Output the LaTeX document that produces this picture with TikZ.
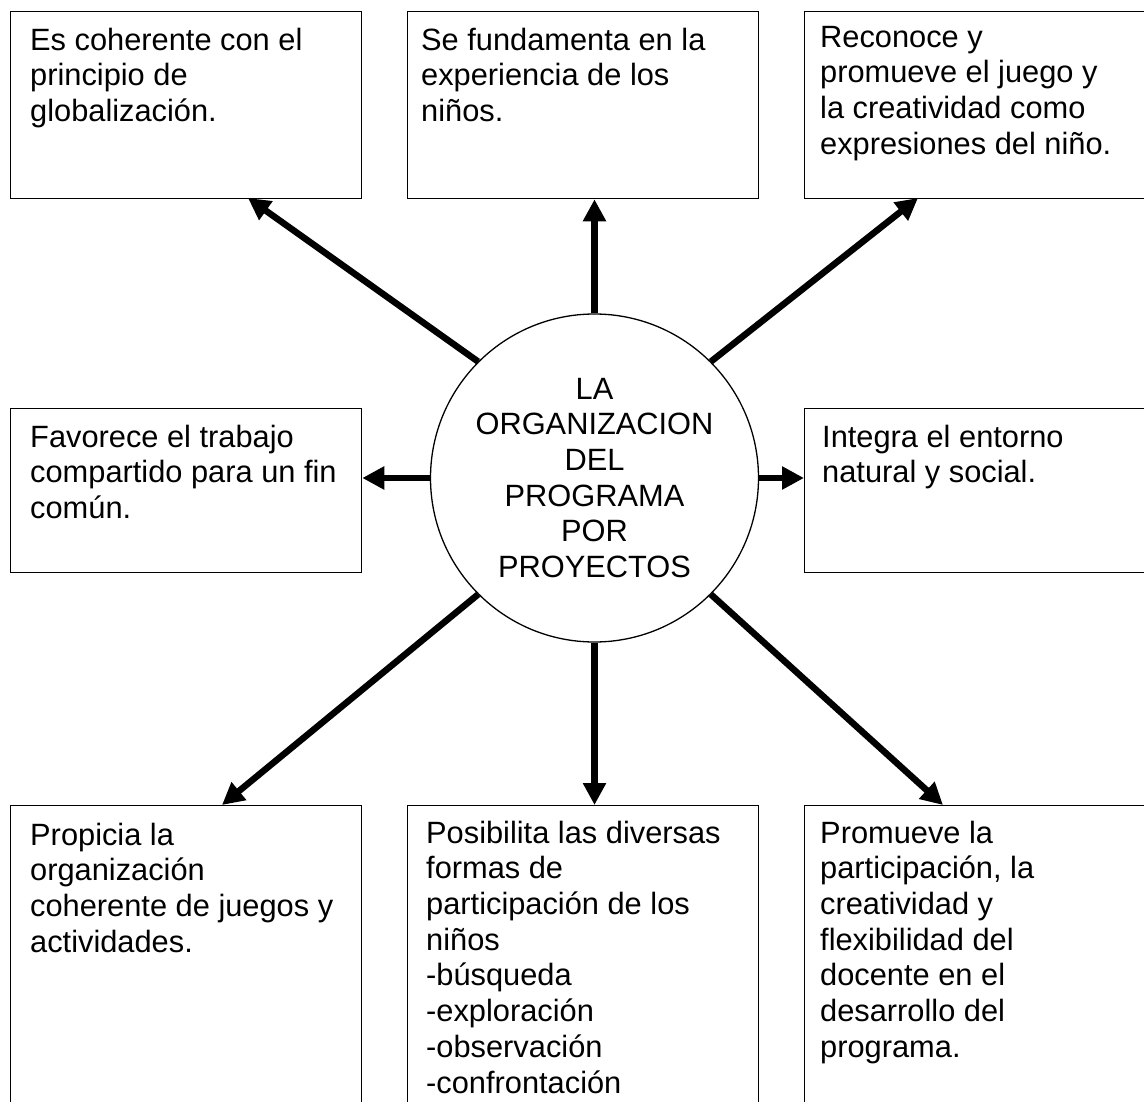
\documentclass[tikz,border=0pt]{standalone}
\usepackage{fontspec}
\setmainfont{Liberation Sans}
\usetikzlibrary{arrows.meta}
\begin{document}
\begin{tikzpicture}[x=1pt,y=-1pt,
  box/.style={draw, line width=1.3pt, rectangle, anchor=north west, inner sep=0pt},
  txt/.style={anchor=north west, inner sep=0pt, align=left, font={\fontsize{30.8}{35.7}\selectfont}},
  conn/.style={line width=6.5pt, -{Triangle[length=22pt,width=22pt]}}]
\useasboundingbox (0,0) rectangle (1144,1102);
\clip (0,0) rectangle (1144,1102);
% boxes
\node[box, minimum width=351pt, minimum height=187pt] (tl) at (10,11) {};
\node[box, minimum width=351pt, minimum height=187pt] (tm) at (407,11) {};
\node[box, minimum width=360pt, minimum height=187pt] (tr) at (804,11) {};
\node[box, minimum width=351pt, minimum height=164pt] (ml) at (10,408) {};
\node[box, minimum width=360pt, minimum height=164pt] (mr) at (804,408) {};
\node[box, minimum width=351pt, minimum height=320pt] (bl) at (10,805) {};
\node[box, minimum width=351pt, minimum height=320pt] (bm) at (407,805) {};
\node[box, minimum width=360pt, minimum height=320pt] (br) at (804,805) {};
% texts
\node[txt] (tlt) at (30,25) {\strut Es coherente con el\\principio de\\globalización.};
\node[txt] (tmt) at (421,25) {\strut Se fundamenta en la\\experiencia de los\\niños.};
\node[txt] (trt) at (820,22) {\strut Reconoce y\\promueve el juego y\\la creatividad como\\expresiones del niño.};
\node[txt] (mlt) at (30,422) {\strut Favorece el trabajo\\compartido para un fin\\común.};
\node[txt] (mrt) at (822,422) {\strut Integra el entorno\\natural y social.};
\node[txt] (blt) at (30,820) {\strut Propicia la\\organización\\coherente de juegos y\\actividades.};
\node[txt] (bmt) at (426,818) {\strut Posibilita las diversas\\formas de\\participación de los\\niños\\-búsqueda\\-exploración\\-observación\\-confrontación};
\node[txt] (brt) at (820,818) {\strut Promueve la\\participación, la\\creatividad y\\flexibilidad del\\docente en el\\desarrollo del\\programa.};
% centre
\node[draw, circle, line width=1.3pt, minimum size=328pt, inner sep=0pt, align=center,
      font={\fontsize{30.8}{35.7}\selectfont}] (c) at (594.5,478)
  {LA\\ORGANIZACION\\DEL\\PROGRAMA\\POR\\PROYECTOS};
% arrow ends
\coordinate (e1) at (248,198);
\coordinate (e3) at (918,198);
\coordinate (e6) at (222,805);
\coordinate (e8) at (943,805);
% connectors
\draw[conn] (c.135) -- (e1);
\draw[conn] (c.north) -- (c.north |- tm.south);
\draw[conn] (c.45) -- (e3);
\draw[conn] (c.west) -- (c.west -| ml.east);
\draw[conn] (c.east) -- (c.east -| mr.west);
\draw[conn] (c.225) -- (e6);
\draw[conn] (c.south) -- (c.south |- bm.north);
\draw[conn] (c.315) -- (e8);
\end{tikzpicture}
\end{document}
